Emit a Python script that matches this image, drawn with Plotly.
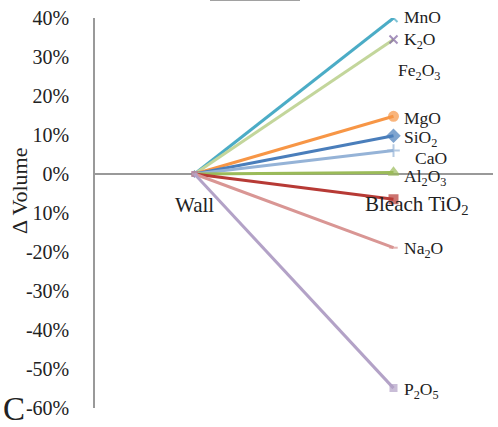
import plotly.graph_objects as go

categories = ["Wall", "Bleach TiO<sub>2</sub>"]
series_names = ["MnO", "K2O", "MgO", "SiO2", "CaO", "Al2O3", "TiO2", "Na2O", "P2O5"]
wall_values = [0, 0, 0, 0, 0, 0, 0, 0, 0]
bleach_values = [0.40, 0.345, 0.148, 0.098, 0.06, 0.004, -0.065, -0.189, -0.549]
y_ticks = [0.4, 0.3, 0.2, 0.1, 0.0, -0.1, -0.2, -0.3, -0.4, -0.5, -0.6]
y_tick_labels = ["40%", "30%", "20%", "10%", "0%", "-10%", "-20%", "-30%", "-40%", "-50%", "-60%"]

styles = {
    "MnO":   dict(line="#4BACC6", marker="#4BACC6", symbol="x-thin", size=8),
    "K2O":   dict(line="#C3D69B", marker="#8064A2", symbol="x-thin", size=8),
    "MgO":   dict(line="#F79646", marker="#F79646", symbol="circle", size=9),
    "SiO2":  dict(line="#4A7EBB", marker="#4A7EBB", symbol="diamond", size=9),
    "CaO":   dict(line="#95B3D7", marker="#95B3D7", symbol="cross-thin", size=9),
    "Al2O3": dict(line="#9BBB59", marker="#9BBB59", symbol="triangle-up", size=9),
    "TiO2":  dict(line="#B73A35", marker="#B73A35", symbol="square", size=8),
    "Na2O":  dict(line="#D99694", marker="#D99694", symbol="line-ew", size=6),
    "P2O5":  dict(line="#B3A2C7", marker="#B3A2C7", symbol="square", size=6),
}

fig = go.Figure()
for name, w, b in zip(series_names, wall_values, bleach_values):
    s = styles[name]
    fig.add_trace(go.Scatter(
        x=categories, y=[w, b], mode="lines+markers", name=name,
        line=dict(color=s["line"], width=3),
        marker=dict(color=s["marker"], symbol=s["symbol"], size=[4, s["size"]],
                    line=dict(color=s["marker"], width=2)),
        showlegend=False,
    ))

font = "Liberation Serif, Times New Roman, serif"

label_texts = ["MnO", "K<sub>2</sub>O", "Fe<sub>2</sub>O<sub>3</sub>", "MgO", "SiO<sub>2</sub>",
               "CaO", "Al<sub>2</sub>O<sub>3</sub>", "Na<sub>2</sub>O", "P<sub>2</sub>O<sub>5</sub>"]
label_px = [(402, 17), (402, 40), (396, 72), (402, 118), (402, 138),
            (413, 158), (402, 177), (402, 249), (402, 390)]

L, R, T, B = 95, 5, 18, 19
W, H = 498, 427
pw, ph = W - L - R, H - T - B

annotations = []
for txt, (px, py) in zip(label_texts, label_px):
    annotations.append(dict(
        x=(px - L) / pw, y=(H - B - py) / ph, xref="paper", yref="paper",
        text=txt, showarrow=False, xanchor="left", yanchor="middle",
        font=dict(family=font, size=17.5, color="#222")))

for c, xs in zip(categories, [0, 23]):
    annotations.append(dict(
        x=c, y=0, xref="x", yref="y", yshift=-31, xshift=xs, text=c,
        showarrow=False, xanchor="center", yanchor="middle",
        font=dict(family=font, size=21, color="#222")))

annotations.append(dict(
    x=(19 - L) / pw, y=(H - B - 191) / ph, xref="paper", yref="paper",
    text="Δ Volume", textangle=-90, showarrow=False, bgcolor="white",
    xanchor="center", yanchor="middle",
    font=dict(family=font, size=22, color="#222")))

annotations.append(dict(
    x=(1 - L) / pw, y=(H - B - 409) / ph, xref="paper", yref="paper",
    text="C", showarrow=False, xanchor="left", yanchor="middle",
    font=dict(family=font, size=33, color="#222")))

fig.update_layout(
    width=W, height=H, margin=dict(l=L, r=R, t=T, b=B),
    paper_bgcolor="white", plot_bgcolor="white",
    font=dict(family=font, color="#222"),
    annotations=annotations,
    shapes=[dict(type="line", xref="paper", yref="paper",
                 x0=(210 - L) / pw, x1=(300 - L) / pw,
                 y0=(H - B + 1) / ph, y1=(H - B + 1) / ph,
                 line=dict(color="#444", width=3))],
    xaxis=dict(type="category", range=[-0.5, 1.5], showticklabels=False,
               showgrid=False, zeroline=False, showline=False, ticks=""),
    yaxis=dict(range=[-0.6, 0.4], tickvals=y_ticks, ticktext=y_tick_labels,
               showgrid=False, zeroline=True, zerolinecolor="#999", zerolinewidth=1.5,
               showline=True, linecolor="#999", linewidth=1.5, ticks="",
               ticklabelstandoff=20, tickfont=dict(family=font, size=20, color="#222")),
)

fig.write_html("out.html")
